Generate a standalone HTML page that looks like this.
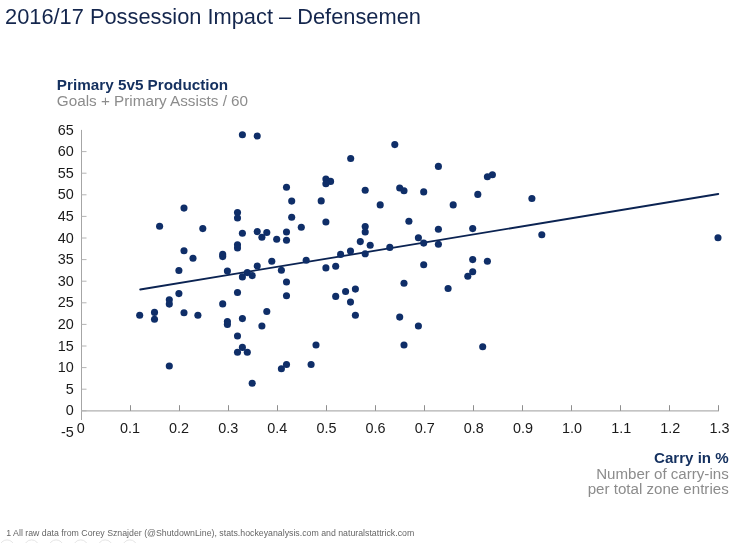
<!DOCTYPE html>
<html lang="en"><head><meta charset="utf-8"><title>2016/17 Possession Impact – Defensemen</title>
<style>
html,body{margin:0;padding:0;background:#fff;}
body{width:748px;height:543px;overflow:hidden;font-family:"Liberation Sans",Arial,sans-serif;}
svg{display:block;}
text{font-family:"Liberation Sans",Arial,sans-serif;}
.t{font-size:21.82px;fill:#14264d;}
.hb{font-size:15.28px;font-weight:bold;fill:#14305f;}
.hg{font-size:15.28px;fill:#8c8c8c;}
.s{font-size:15.1px;}
.ax{font-size:14.4px;fill:#1a1a1a;}
.fn{font-size:8.77px;fill:#666;}
</style></head><body>
<svg width="748" height="543" viewBox="0 0 748 543">
<rect width="748" height="543" fill="#fff"/>
<text class="t" x="5.0" y="23.6">2016/17 Possession Impact – Defensemen</text>
<text class="hb" x="56.8" y="89.7">Primary 5v5 Production</text>
<text class="hg" x="56.8" y="105.9">Goals + Primary Assists / 60</text>
<g stroke="#a6a6a6" stroke-width="1" fill="none">
<line x1="81.5" y1="129.9" x2="81.5" y2="420"/>
<line x1="81.0" y1="410.8" x2="719.0" y2="410.8" stroke-width="1.3" stroke="#b0b0b0"/>
<line x1="81.5" y1="410.80" x2="86.5" y2="410.80" stroke="#b4b4b4"/>
<line x1="81.5" y1="389.20" x2="86.5" y2="389.20" stroke="#b4b4b4"/>
<line x1="81.5" y1="367.60" x2="86.5" y2="367.60" stroke="#b4b4b4"/>
<line x1="81.5" y1="346.00" x2="86.5" y2="346.00" stroke="#b4b4b4"/>
<line x1="81.5" y1="324.40" x2="86.5" y2="324.40" stroke="#b4b4b4"/>
<line x1="81.5" y1="302.80" x2="86.5" y2="302.80" stroke="#b4b4b4"/>
<line x1="81.5" y1="281.20" x2="86.5" y2="281.20" stroke="#b4b4b4"/>
<line x1="81.5" y1="259.60" x2="86.5" y2="259.60" stroke="#b4b4b4"/>
<line x1="81.5" y1="238.00" x2="86.5" y2="238.00" stroke="#b4b4b4"/>
<line x1="81.5" y1="216.40" x2="86.5" y2="216.40" stroke="#b4b4b4"/>
<line x1="81.5" y1="194.80" x2="86.5" y2="194.80" stroke="#b4b4b4"/>
<line x1="81.5" y1="173.20" x2="86.5" y2="173.20" stroke="#b4b4b4"/>
<line x1="81.5" y1="151.60" x2="86.5" y2="151.60" stroke="#b4b4b4"/>
<line x1="130.50" y1="410.8" x2="130.50" y2="405.2" stroke="#8e8e8e"/>
<line x1="179.50" y1="410.8" x2="179.50" y2="405.2" stroke="#8e8e8e"/>
<line x1="228.50" y1="410.8" x2="228.50" y2="405.2" stroke="#8e8e8e"/>
<line x1="277.50" y1="410.8" x2="277.50" y2="405.2" stroke="#8e8e8e"/>
<line x1="326.50" y1="410.8" x2="326.50" y2="405.2" stroke="#8e8e8e"/>
<line x1="375.50" y1="410.8" x2="375.50" y2="405.2" stroke="#8e8e8e"/>
<line x1="424.50" y1="410.8" x2="424.50" y2="405.2" stroke="#8e8e8e"/>
<line x1="473.50" y1="410.8" x2="473.50" y2="405.2" stroke="#8e8e8e"/>
<line x1="522.50" y1="410.8" x2="522.50" y2="405.2" stroke="#8e8e8e"/>
<line x1="571.50" y1="410.8" x2="571.50" y2="405.2" stroke="#8e8e8e"/>
<line x1="620.50" y1="410.8" x2="620.50" y2="405.2" stroke="#8e8e8e"/>
<line x1="669.50" y1="410.8" x2="669.50" y2="405.2" stroke="#8e8e8e"/>
<line x1="718.50" y1="410.8" x2="718.50" y2="405.2" stroke="#8e8e8e"/>
</g>
<g class="ax" text-anchor="end">
<text x="73.8" y="436.90">-5</text>
<text x="73.8" y="415.30">0</text>
<text x="73.8" y="393.70">5</text>
<text x="73.8" y="372.10">10</text>
<text x="73.8" y="350.50">15</text>
<text x="73.8" y="328.90">20</text>
<text x="73.8" y="307.30">25</text>
<text x="73.8" y="285.70">30</text>
<text x="73.8" y="264.10">35</text>
<text x="73.8" y="242.50">40</text>
<text x="73.8" y="220.90">45</text>
<text x="73.8" y="199.30">50</text>
<text x="73.8" y="177.70">55</text>
<text x="73.8" y="156.10">60</text>
<text x="73.8" y="134.50">65</text>
</g>
<g class="ax" text-anchor="middle">
<text x="80.80" y="432.6">0</text>
<text x="129.93" y="432.6">0.1</text>
<text x="179.06" y="432.6">0.2</text>
<text x="228.19" y="432.6">0.3</text>
<text x="277.32" y="432.6">0.4</text>
<text x="326.45" y="432.6">0.5</text>
<text x="375.58" y="432.6">0.6</text>
<text x="424.71" y="432.6">0.7</text>
<text x="473.84" y="432.6">0.8</text>
<text x="522.97" y="432.6">0.9</text>
<text x="572.10" y="432.6">1.0</text>
<text x="621.23" y="432.6">1.1</text>
<text x="670.36" y="432.6">1.2</text>
<text x="719.49" y="432.6">1.3</text>
</g>
<line x1="140.2" y1="289.5" x2="718.3" y2="194.0" stroke="#0b2352" stroke-width="1.8" stroke-linecap="round"/>
<g fill="#0f2e68">
<circle cx="242.4" cy="134.8" r="3.55"/>
<circle cx="257.2" cy="136.0" r="3.55"/>
<circle cx="184.0" cy="208.1" r="3.55"/>
<circle cx="159.6" cy="226.3" r="3.55"/>
<circle cx="202.8" cy="228.6" r="3.55"/>
<circle cx="237.5" cy="212.6" r="3.55"/>
<circle cx="237.5" cy="218.0" r="3.55"/>
<circle cx="242.4" cy="233.3" r="3.55"/>
<circle cx="257.2" cy="231.6" r="3.55"/>
<circle cx="266.8" cy="232.5" r="3.55"/>
<circle cx="394.8" cy="144.6" r="3.55"/>
<circle cx="350.7" cy="158.5" r="3.55"/>
<circle cx="325.9" cy="179.0" r="3.55"/>
<circle cx="330.6" cy="181.4" r="3.55"/>
<circle cx="325.9" cy="183.7" r="3.55"/>
<circle cx="286.5" cy="187.2" r="3.55"/>
<circle cx="365.2" cy="190.2" r="3.55"/>
<circle cx="399.7" cy="188.0" r="3.55"/>
<circle cx="404.0" cy="190.8" r="3.55"/>
<circle cx="291.7" cy="201.1" r="3.55"/>
<circle cx="321.2" cy="200.9" r="3.55"/>
<circle cx="380.2" cy="204.9" r="3.55"/>
<circle cx="291.7" cy="217.3" r="3.55"/>
<circle cx="325.9" cy="222.0" r="3.55"/>
<circle cx="408.9" cy="221.2" r="3.55"/>
<circle cx="301.3" cy="227.2" r="3.55"/>
<circle cx="365.2" cy="226.5" r="3.55"/>
<circle cx="365.2" cy="232.0" r="3.55"/>
<circle cx="286.5" cy="232.0" r="3.55"/>
<circle cx="438.4" cy="166.4" r="3.55"/>
<circle cx="487.4" cy="176.7" r="3.55"/>
<circle cx="492.4" cy="174.8" r="3.55"/>
<circle cx="423.7" cy="191.9" r="3.55"/>
<circle cx="477.8" cy="194.4" r="3.55"/>
<circle cx="531.9" cy="198.5" r="3.55"/>
<circle cx="453.2" cy="204.9" r="3.55"/>
<circle cx="438.4" cy="229.3" r="3.55"/>
<circle cx="472.7" cy="228.6" r="3.55"/>
<circle cx="541.8" cy="234.8" r="3.55"/>
<circle cx="718.0" cy="237.8" r="3.55"/>
<circle cx="261.9" cy="237.3" r="3.55"/>
<circle cx="184.0" cy="250.8" r="3.55"/>
<circle cx="237.5" cy="244.8" r="3.55"/>
<circle cx="237.5" cy="248.0" r="3.55"/>
<circle cx="222.7" cy="254.4" r="3.55"/>
<circle cx="222.7" cy="256.6" r="3.55"/>
<circle cx="193.0" cy="258.3" r="3.55"/>
<circle cx="178.9" cy="270.5" r="3.55"/>
<circle cx="227.4" cy="271.1" r="3.55"/>
<circle cx="257.2" cy="266.0" r="3.55"/>
<circle cx="247.3" cy="272.6" r="3.55"/>
<circle cx="242.4" cy="276.9" r="3.55"/>
<circle cx="252.2" cy="275.6" r="3.55"/>
<circle cx="237.5" cy="292.5" r="3.55"/>
<circle cx="178.9" cy="293.6" r="3.55"/>
<circle cx="169.3" cy="299.8" r="3.55"/>
<circle cx="169.3" cy="304.1" r="3.55"/>
<circle cx="222.7" cy="303.9" r="3.55"/>
<circle cx="139.7" cy="315.2" r="3.55"/>
<circle cx="154.5" cy="312.4" r="3.55"/>
<circle cx="154.5" cy="319.3" r="3.55"/>
<circle cx="184.0" cy="312.8" r="3.55"/>
<circle cx="197.9" cy="315.2" r="3.55"/>
<circle cx="266.8" cy="311.5" r="3.55"/>
<circle cx="242.4" cy="318.6" r="3.55"/>
<circle cx="227.4" cy="321.6" r="3.55"/>
<circle cx="227.4" cy="324.4" r="3.55"/>
<circle cx="261.9" cy="326.0" r="3.55"/>
<circle cx="237.5" cy="336.0" r="3.55"/>
<circle cx="276.7" cy="239.3" r="3.55"/>
<circle cx="286.5" cy="240.3" r="3.55"/>
<circle cx="360.3" cy="241.6" r="3.55"/>
<circle cx="370.2" cy="245.3" r="3.55"/>
<circle cx="418.4" cy="237.8" r="3.55"/>
<circle cx="389.8" cy="247.4" r="3.55"/>
<circle cx="350.5" cy="251.0" r="3.55"/>
<circle cx="340.6" cy="254.4" r="3.55"/>
<circle cx="365.2" cy="253.8" r="3.55"/>
<circle cx="306.2" cy="260.2" r="3.55"/>
<circle cx="271.8" cy="261.3" r="3.55"/>
<circle cx="281.4" cy="270.3" r="3.55"/>
<circle cx="325.9" cy="267.9" r="3.55"/>
<circle cx="335.7" cy="266.2" r="3.55"/>
<circle cx="286.5" cy="282.0" r="3.55"/>
<circle cx="286.5" cy="295.7" r="3.55"/>
<circle cx="404.0" cy="283.3" r="3.55"/>
<circle cx="345.6" cy="291.5" r="3.55"/>
<circle cx="355.4" cy="289.1" r="3.55"/>
<circle cx="335.7" cy="296.4" r="3.55"/>
<circle cx="350.5" cy="302.1" r="3.55"/>
<circle cx="355.4" cy="315.2" r="3.55"/>
<circle cx="399.7" cy="317.1" r="3.55"/>
<circle cx="418.4" cy="326.0" r="3.55"/>
<circle cx="423.7" cy="243.1" r="3.55"/>
<circle cx="438.4" cy="244.2" r="3.55"/>
<circle cx="423.7" cy="264.7" r="3.55"/>
<circle cx="472.7" cy="259.6" r="3.55"/>
<circle cx="487.4" cy="261.3" r="3.55"/>
<circle cx="472.7" cy="271.8" r="3.55"/>
<circle cx="467.8" cy="276.3" r="3.55"/>
<circle cx="448.1" cy="288.5" r="3.55"/>
<circle cx="242.4" cy="347.4" r="3.55"/>
<circle cx="237.5" cy="352.3" r="3.55"/>
<circle cx="247.3" cy="352.3" r="3.55"/>
<circle cx="169.3" cy="366.0" r="3.55"/>
<circle cx="252.2" cy="383.3" r="3.55"/>
<circle cx="316.0" cy="345.0" r="3.55"/>
<circle cx="281.4" cy="368.8" r="3.55"/>
<circle cx="286.5" cy="364.5" r="3.55"/>
<circle cx="311.1" cy="364.5" r="3.55"/>
<circle cx="404.0" cy="345.0" r="3.55"/>
<circle cx="482.7" cy="346.7" r="3.55"/>
</g>
<text class="hb s" x="728.7" y="462.5" text-anchor="end">Carry in %</text>
<text class="hg s" x="728.7" y="479.3" text-anchor="end">Number of carry-ins</text>
<text class="hg s" x="728.7" y="493.8" text-anchor="end">per total zone entries</text>
<text class="fn" x="6.3" y="536.1">1 All raw data from Corey Sznajder (@ShutdownLine), stats.hockeyanalysis.com and naturalstattrick.com</text>
<g fill="none" stroke="#e6e6e6" stroke-width="1">
<circle cx="7" cy="547.2" r="7.3"/>
<circle cx="31.6" cy="547.2" r="7.3"/>
<circle cx="56.1" cy="547.2" r="7.3"/>
<circle cx="80.7" cy="547.2" r="7.3"/>
<circle cx="105.2" cy="547.2" r="7.3"/>
<circle cx="129.8" cy="547.2" r="7.3"/>
</g>
</svg>
</body></html>
